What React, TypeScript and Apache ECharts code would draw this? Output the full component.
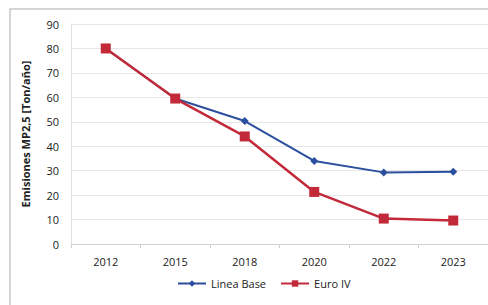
import React, { useEffect, useRef } from "react";
import * as echarts from "echarts";

const categories = ["2012", "2015", "2018", "2020", "2022", "2023"];
const lineaBase = [80, 59.5, 50.3, 34, 29.3, 29.6];
const euroIV = [80, 59.5, 44, 21.3, 10.4, 9.6];
const yTicks = { min: 0, max: 90, interval: 10 };

export default function App() {
  const ref = useRef<HTMLDivElement>(null);
  useEffect(() => {
    if (!ref.current) return;
    const chart = echarts.init(ref.current, null, { renderer: "svg" });
    const font = "Open Sans";
    chart.setOption({
      animation: false,
      backgroundColor: "#ffffff",
      textStyle: { fontFamily: font },
      graphic: [
        {
          type: "rect",
          shape: { x: 10, y: 9, width: 490, height: 300 },
          style: { fill: "none", stroke: "#c8c8c8", lineWidth: 1.5 },
          silent: true,
        },
      ],
      grid: { left: 71, right: 0, top: 24, bottom: 61 },
      legend: {
        top: 273,
        left: 172,
        itemGap: 14,
        itemWidth: 28,
        itemHeight: 8,
        textStyle: { fontSize: 11, color: "#222", fontFamily: font },
        data: ["Linea Base", "Euro IV"],
      },
      xAxis: {
        type: "category",
        data: categories,
        boundaryGap: true,
        axisLine: { lineStyle: { color: "#d0d0d0" } },
        axisTick: { show: true, alignWithLabel: false, length: 4, lineStyle: { color: "#d0d0d0" } },
        axisLabel: { color: "#222", fontSize: 11, margin: 12 },
      },
      yAxis: {
        type: "value",
        min: yTicks.min,
        max: yTicks.max,
        interval: yTicks.interval,
        name: "Emisiones MP2,5 [Ton/año]",
        nameLocation: "middle",
        nameGap: 40,
        nameTextStyle: { fontWeight: "bold", fontSize: 11, color: "#222" },
        axisLine: { show: true, lineStyle: { color: "#e0e0e0" } },
        axisTick: { show: false },
        axisLabel: { color: "#222", fontSize: 11, margin: 12 },
        splitLine: { lineStyle: { color: "#e6e6e6" } },
      },
      series: [
        {
          name: "Linea Base",
          type: "line",
          data: lineaBase,
          symbol: "diamond",
          symbolSize: 8,
          color: "#2b4f9e",
          lineStyle: { width: 2, color: "#2b4f9e" },
          itemStyle: { color: "#2b4f9e" },
        },
        {
          name: "Euro IV",
          type: "line",
          data: euroIV,
          symbol: "rect",
          symbolSize: 10,
          color: "#c22a3a",
          lineStyle: { width: 2.5, color: "#c22a3a" },
          itemStyle: { color: "#c22a3a" },
        },
      ],
    });
    return () => chart.dispose();
  }, []);
  return (
    <div
      ref={ref}
      style={{ position: "fixed", left: 0, top: 0, width: 488, height: 305 }}
    />
  );
}
